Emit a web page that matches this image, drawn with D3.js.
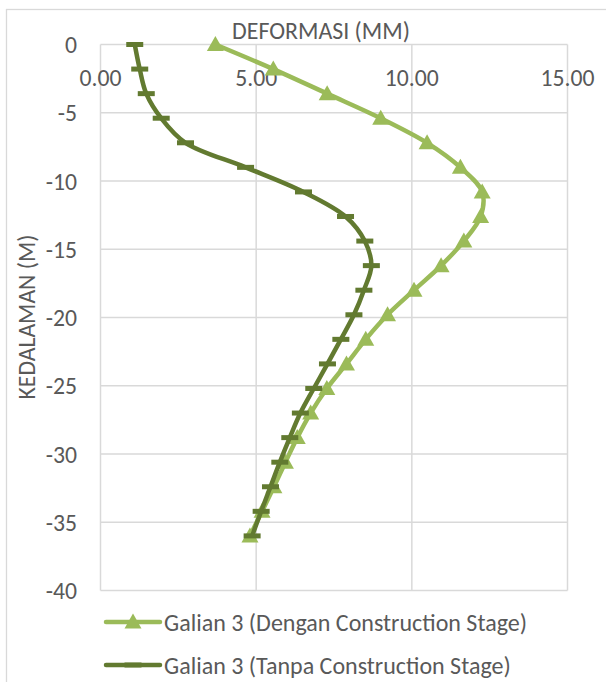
<!DOCTYPE html>
<html>
<head>
<meta charset="utf-8">
<script src="https://cdn.jsdelivr.net/npm/d3@7"></script>
<style>
  html, body { margin: 0; padding: 0; background: #fff; }
  svg { display: block; }
  text { font-family: Carlito, Calibri, Lato, "Open Sans", sans-serif; fill: #595959; }
</style>
</head>
<body>
<svg id="chart" width="606" height="682"></svg>
<script>
// ---- data ----
const depths = [0, -1.8, -3.6, -5.4, -7.2, -9, -10.8, -12.6, -14.4, -16.2, -18, -19.8, -21.6, -23.4, -25.2, -27, -28.8, -30.6, -32.4, -34.2, -36];
const dengan = [3.69, 5.55, 7.28, 9.0, 10.49, 11.56, 12.26, 12.21, 11.67, 10.94, 10.07, 9.22, 8.52, 7.9, 7.27, 6.75, 6.32, 5.94, 5.57, 5.19, 4.80];
const tanpa  = [1.10, 1.26, 1.47, 1.95, 2.73, 4.66, 6.52, 7.87, 8.49, 8.70, 8.46, 8.14, 7.72, 7.29, 6.85, 6.42, 6.08, 5.76, 5.46, 5.16, 4.87];
const xTicks = [0, 5, 10, 15];
const yTicks = [0, -5, -10, -15, -20, -25, -30, -35, -40];
const seriesNames = ["Galian 3 (Dengan Construction Stage)", "Galian 3 (Tanpa Construction Stage)"];
const xTitle = "DEFORMASI (MM)";
const yTitle = "KEDALAMAN (M)";

const lightGreen = "#9BBB59";
const darkGreen = "#627A30";
const gridColor = "#D9D9D9";

const svg = d3.select("#chart");

// chart border
svg.append("rect").attr("x", 6.5).attr("y", 9.5).attr("width", 700).attr("height", 700)
  .attr("fill", "none").attr("stroke", gridColor).attr("stroke-width", 1.3);

const x = d3.scaleLinear().domain([0, 15]).range([100.5, 567.5]);
const y = d3.scaleLinear().domain([0, -40]).range([44.5, 590.5]);

// gridlines
const grid = svg.append("g");
grid.selectAll("line.h").data(yTicks).join("line")
  .attr("x1", x(0)).attr("x2", x(15)).attr("y1", d => y(d)).attr("y2", d => y(d))
  .attr("stroke", gridColor).attr("stroke-width", 1.5);
grid.selectAll("line.v").data(xTicks).join("line")
  .attr("y1", y(0)).attr("y2", y(-40)).attr("x1", d => x(d)).attr("x2", d => x(d))
  .attr("stroke", gridColor).attr("stroke-width", 1.5);

function fit(sel, target) {
  const node = sel.node();
  const fs = parseFloat(sel.attr("font-size"));
  const w = node.getComputedTextLength();
  if (w > 0) sel.attr("font-size", (fs * target / w).toFixed(2));
}

// x tick labels (top)
svg.selectAll("text.xt").data(xTicks).join("text")
  .attr("class", "xt")
  .attr("x", d => x(d)).attr("y", 77)
  .attr("text-anchor", "middle").attr("dominant-baseline", "central")
  .attr("font-size", 21)
  .text(d => d3.format(".2f")(d));

// y tick labels
svg.selectAll("text.yt").data(yTicks).join("text")
  .attr("class", "yt")
  .attr("x", 77).attr("y", d => y(d))
  .attr("text-anchor", "end").attr("dominant-baseline", "central")
  .attr("font-size", 21)
  .text(d => d === 0 ? "0" : "-" + Math.abs(d));

// titles
const tx = svg.append("text").attr("x", 321).attr("y", 30)
  .attr("text-anchor", "middle").attr("dominant-baseline", "central")
  .attr("font-size", 19).text(xTitle);
fit(tx, 178);

const ty = svg.append("text").attr("transform", "translate(26,317) rotate(-90)")
  .attr("text-anchor", "middle").attr("dominant-baseline", "central")
  .attr("font-size", 19).text(yTitle);
fit(ty, 165);

// lines
const curve = d3.curveCatmullRom.alpha(0.5);
const line = d3.line().x(d => x(d[0])).y(d => y(d[1])).curve(curve);

const dataDengan = dengan.map((v, i) => [v, depths[i]]);
const dataTanpa = tanpa.map((v, i) => [v, depths[i]]);

const triPath = "M0,-8.5 L8.5,6.5 L-8.5,6.5 Z";

svg.append("path").datum(dataDengan).attr("d", line)
  .attr("fill", "none").attr("stroke", lightGreen).attr("stroke-width", 4.5);
svg.selectAll("path.tri").data(dataDengan).join("path")
  .attr("class", "tri")
  .attr("d", triPath)
  .attr("transform", d => `translate(${x(d[0])},${y(d[1])})`)
  .attr("fill", lightGreen);

svg.append("path").datum(dataTanpa).attr("d", line)
  .attr("fill", "none").attr("stroke", darkGreen).attr("stroke-width", 4.5);
svg.selectAll("rect.dash").data(dataTanpa).join("rect")
  .attr("class", "dash")
  .attr("x", d => x(d[0]) - 8.5).attr("y", d => y(d[1]) - 2.5)
  .attr("width", 17).attr("height", 5)
  .attr("fill", darkGreen);

// legend
const legY = [622, 665];
const leg = svg.append("g");
leg.append("line").attr("x1", 106).attr("x2", 160).attr("y1", legY[0]).attr("y2", legY[0])
  .attr("stroke", lightGreen).attr("stroke-width", 4.5).attr("stroke-linecap", "round");
leg.append("path").attr("d", triPath).attr("transform", `translate(133,${legY[0]})`).attr("fill", lightGreen);
leg.append("line").attr("x1", 106).attr("x2", 160).attr("y1", legY[1]).attr("y2", legY[1])
  .attr("stroke", darkGreen).attr("stroke-width", 4.5).attr("stroke-linecap", "round");
leg.append("rect").attr("x", 124.5).attr("y", legY[1] - 2.5).attr("width", 17).attr("height", 5).attr("fill", darkGreen);

const l1 = leg.append("text").attr("x", 164).attr("y", legY[0]).attr("dominant-baseline", "central")
  .attr("font-size", 21).text(seriesNames[0]);
fit(l1, 363);
const fsLeg = l1.attr("font-size");
leg.append("text").attr("x", 164).attr("y", legY[1]).attr("dominant-baseline", "central")
  .attr("font-size", fsLeg).text(seriesNames[1]);

// match tick font size to "0.00" width
const t0 = svg.select("text.xt");
fit(t0, 42);
const fsTick = t0.attr("font-size");
svg.selectAll("text.xt, text.yt").attr("font-size", fsTick);
</script>
</body>
</html>
